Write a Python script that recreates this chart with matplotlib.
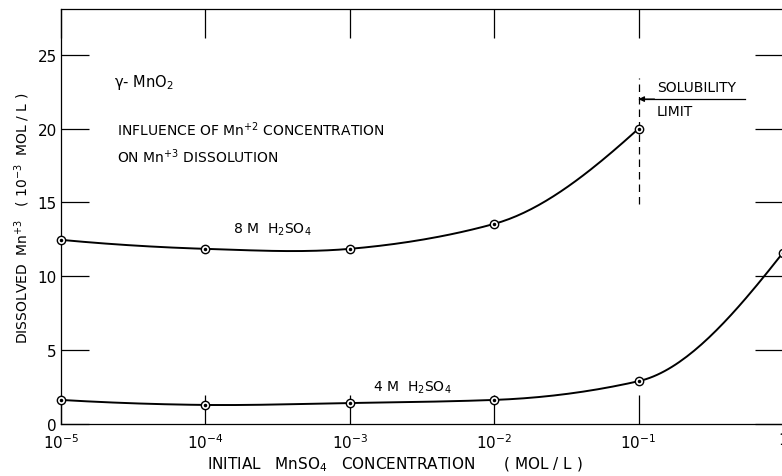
import numpy as np
import matplotlib
matplotlib.use("Agg")
import matplotlib.pyplot as plt

plt.rcParams['font.family'] = ['DejaVu Sans']
plt.rcParams['mathtext.default'] = 'regular'

# data
conc = [1e-5, 1e-4, 1e-3, 1e-2, 1e-1, 1e0]
mn3_8m = [12.47, 11.86, 11.86, 13.55, 20.0]        # 8 M H2SO4, up to solubility limit
mn3_4m = [1.63, 1.29, 1.42, 1.63, 2.9, 11.6]        # 4 M H2SO4
x_ticks = [1e-5, 1e-4, 1e-3, 1e-2, 1e-1, 1e0]
x_tick_labels = [r'$10^{-5}$', r'$10^{-4}$', r'$10^{-3}$', r'$10^{-2}$', r'$10^{-1}$', '1']
y_ticks = [0, 5, 10, 15, 20, 25]
solubility_limit = 1e-1


def smooth_curve(xs, ys, n=40):
    """ Hermite curve through the points in log-x space (drawing only) """
    lx = np.log10(xs)
    ys = np.asarray(ys, dtype=float)
    k = len(lx)
    d = np.diff(ys) / np.diff(lx)
    m = np.zeros(k)
    for i in range(1, k - 1):
        a, b = d[i - 1], d[i]
        if a * b > 0:
            m[i] = 2 / (1 / a + 1 / b)       # harmonic mean keeps it convex
        else:
            m[i] = (a + b) / 2
    m[0] = (3 * d[0] - d[1]) / 2
    m[-1] = (3 * d[-1] - d[-2]) / 2
    out_x, out_y = [], []
    for i in range(k - 1):
        h = lx[i + 1] - lx[i]
        t = np.linspace(0, 1, n)
        h00 = 2 * t**3 - 3 * t**2 + 1
        h10 = t**3 - 2 * t**2 + t
        h01 = -2 * t**3 + 3 * t**2
        h11 = t**3 - t**2
        out_x.extend(lx[i] + t * h)
        out_y.extend(h00 * ys[i] + h10 * h * m[i] + h01 * ys[i + 1] + h11 * h * m[i + 1])
    return 10 ** np.array(out_x), np.array(out_y)


fig = plt.figure(figsize=(7.82, 4.77), dpi=100)
ax = fig.add_axes([61 / 782, 1 - 425 / 477, (783 - 61) / 782, (425 - 10) / 477])
ax.set_xscale('log')
ax.set_xlim(1e-5, 1e0)
ax.set_ylim(0, 28.1)

for xs, ys in [(conc[:5], mn3_8m), (conc, mn3_4m)]:
    sx, sy = smooth_curve(xs, ys)
    ax.plot(sx, sy, color='black', lw=1.4, clip_on=False, zorder=3)
    ax.plot(xs, ys, ls='none', marker='o', ms=6, mfc='white', mec='black', mew=1.0,
            clip_on=False, zorder=4)
    ax.plot(xs, ys, ls='none', marker='o', ms=1.5, color='black', clip_on=False, zorder=5)

# ticks
ax.set_xticks(x_ticks)
ax.set_xticklabels(x_tick_labels)
ax.minorticks_off()
ax.set_yticks(y_ticks)
ax.tick_params(axis='x', which='major', direction='in', length=21, width=0.9,
               top=True, bottom=True, labelsize=11, pad=6)
ax.tick_params(axis='y', which='major', direction='in', length=20, width=0.9,
               left=True, right=True, labelsize=11, pad=3)
for sp in ax.spines.values():
    sp.set_linewidth(0.9)

# solubility limit marker
ax.plot([solubility_limit, solubility_limit], [14.9, 23.4], color='black', lw=0.9,
        ls=(0, (6, 4)))
ax.plot([solubility_limit, 10 ** -0.26], [22.0, 22.0], color='black', lw=0.9)
ax.annotate('', xy=(solubility_limit, 22.0), xytext=(10 ** -0.89, 22.0),
            arrowprops=dict(arrowstyle='-|>', color='black', lw=0.9,
                            mutation_scale=8, shrinkA=0, shrinkB=0))
ax.text(10 ** -0.875, 22.85, 'SOLUBILITY', fontsize=10, va='center', ha='left')
ax.text(10 ** -0.875, 21.2, 'LIMIT', fontsize=10, va='center', ha='left')

# annotations
ax.text(10 ** -4.63, 23.2, r'$\gamma$- MnO$_2$', fontsize=10.5, va='center', ha='left')
ax.text(10 ** -4.61, 20.0, r'INFLUENCE OF Mn$^{+2}$ CONCENTRATION', fontsize=10,
        va='center', ha='left')
ax.text(10 ** -4.61, 18.2, r'ON Mn$^{+3}$ DISSOLUTION', fontsize=10, va='center', ha='left')
ax.text(10 ** -3.81, 13.2, r'8 M  H$_2$SO$_4$', fontsize=10, va='center', ha='left')
ax.text(10 ** -2.84, 2.5, r'4 M  H$_2$SO$_4$', fontsize=10, va='center', ha='left')

fig.text(22 / 782, 1 - 218 / 477, r'DISSOLVED  Mn$^{+3}$   ( 10$^{-3}$  MOL / L )',
         rotation=90, fontsize=10, ha='center', va='center')
fig.text(395 / 782, 1 - 465 / 477,
         r'INITIAL   MnSO$_4$   CONCENTRATION      ( MOL / L )',
         fontsize=11, ha='center', va='center')

fig.savefig('out.png', dpi=100)
